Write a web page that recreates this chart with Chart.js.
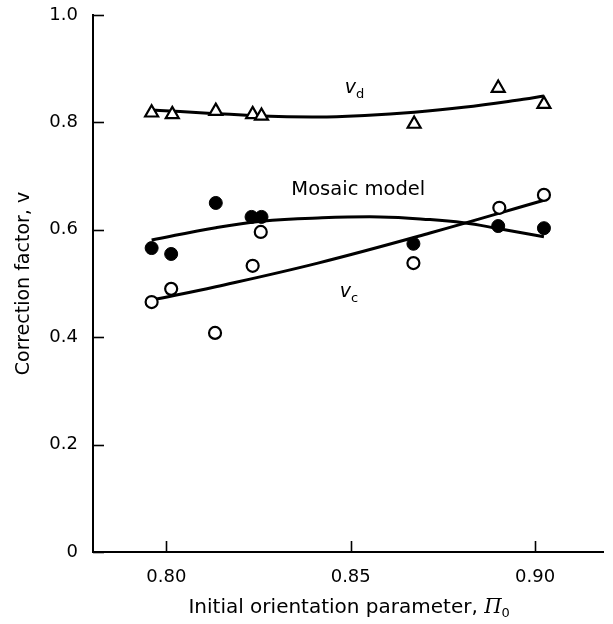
<!DOCTYPE html>
<html><head><meta charset="utf-8">
<script src="https://cdn.jsdelivr.net/npm/chart.js@4.4.0/dist/chart.umd.min.js"></script>
<style>html,body{margin:0;padding:0;background:#fff;}</style>
</head><body>
<canvas id="c" width="613" height="624" style="display:block;width:613px;height:624px"></canvas>
<script>
// ---- data ----
const xTickVals = [0.80, 0.85, 0.90];
const yTickVals = [0, 0.2, 0.4, 0.6, 0.8, 1.0];

// v_d (open triangles)
const triX = [0.796, 0.8016, 0.8134, 0.8234, 0.8258, 0.8672, 0.8900, 0.9024];
const triY = [0.818, 0.815, 0.821, 0.815, 0.812, 0.797, 0.864, 0.834];
// Mosaic model (filled circles)
const fillX = [0.796, 0.8013, 0.8134, 0.8231, 0.8258, 0.8670, 0.8900, 0.9024];
const fillY = [0.566, 0.555, 0.650, 0.624, 0.624, 0.574, 0.607, 0.603];
// v_c (open circles)
const openX = [0.796, 0.8013, 0.8132, 0.8234, 0.8256, 0.8670, 0.8903, 0.9024];
const openY = [0.4655, 0.490, 0.408, 0.533, 0.596, 0.538, 0.641, 0.665];

// fitted curves
const vdCurveX = [0.796, 0.8258, 0.8411, 0.8538, 0.8672, 0.8806, 0.8968, 0.9024];
const vdCurveY = [0.823, 0.812, 0.810, 0.813, 0.819, 0.828, 0.843, 0.849];
const moCurveX = [0.796, 0.8134, 0.8258, 0.8411, 0.8580, 0.8715, 0.8806, 0.8895, 0.9024];
const moCurveY = [0.581, 0.604, 0.616, 0.622, 0.624, 0.619, 0.613, 0.603, 0.587];
const vcCurveX = [0.796, 0.8134, 0.8411, 0.8715, 0.9024];
const vcCurveY = [0.469, 0.494, 0.538, 0.594, 0.655];

const pts = (xs, ys) => xs.map((v, i) => ({x: v, y: ys[i]}));

const FONT = 'DejaVu Sans';

const deco = {
  id: 'deco',
  afterDraw(chart) {
    const {ctx, scales: {x, y}, chartArea: a} = chart;
    ctx.save();
    // inward tick marks
    ctx.strokeStyle = '#000';
    ctx.lineWidth = 1.6;
    xTickVals.forEach(v => {
      const px = Math.round(x.getPixelForValue(v)) + 0.5;
      ctx.beginPath(); ctx.moveTo(px, a.bottom); ctx.lineTo(px, a.bottom - 11); ctx.stroke();
    });
    yTickVals.forEach(v => {
      const py = Math.round(y.getPixelForValue(v)) + 0.5;
      ctx.beginPath(); ctx.moveTo(a.left, py); ctx.lineTo(a.left + 11, py); ctx.stroke();
    });

    ctx.fillStyle = '#000';
    ctx.textBaseline = 'alphabetic';
    ctx.textAlign = 'left';

    // "Mosaic model"
    ctx.font = '19.5px ' + FONT;
    ctx.fillText('Mosaic model', x.getPixelForValue(0.8339), y.getPixelForValue(0.665));

    // v_d, v_c
    const sub = (main, s, xv, yv) => {
      const px = x.getPixelForValue(xv), py = y.getPixelForValue(yv);
      ctx.font = 'italic 19px ' + FONT;
      ctx.fillText(main, px, py);
      const w = ctx.measureText(main).width;
      ctx.font = '13px ' + FONT;
      ctx.fillText(s, px + w, py + 5);
    };
    sub('v', 'd', 0.8484, 0.855);
    sub('v', 'c', 0.8470, 0.475);

    // x-axis title with italic Pi and subscript 0
    const segs = [
      {t: 'Initial orientation parameter, ', f: '20px ' + FONT, dy: 0},
      {t: 'Π', f: 'italic 20px DejaVu Serif', dy: 0},
      {t: '0', f: '13px ' + FONT, dy: 4}
    ];
    let total = 0;
    segs.forEach(s => { ctx.font = s.f; s.w = ctx.measureText(s.t).width; total += s.w; });
    let sx = (a.left + a.right) / 2 - total / 2 + 1;
    const base = 613;
    segs.forEach(s => { ctx.font = s.f; ctx.fillText(s.t, sx, base + s.dy); sx += s.w; });
    ctx.restore();
  }
};

new Chart(document.getElementById('c'), {
  type: 'scatter',
  data: {
    datasets: [
      {data: pts(vdCurveX, vdCurveY), showLine: true, pointRadius: 0, borderColor: '#000', borderWidth: 3, tension: 0.4, order: 5},
      {data: pts(moCurveX, moCurveY), showLine: true, pointRadius: 0, borderColor: '#000', borderWidth: 3, tension: 0.4, order: 5},
      {data: pts(vcCurveX, vcCurveY), showLine: true, pointRadius: 0, borderColor: '#000', borderWidth: 3, tension: 0.4, order: 5},
      {data: pts(triX, triY), pointStyle: 'triangle', pointRadius: 7.5, backgroundColor: '#fff', borderColor: '#000', borderWidth: 2.2, order: 1},
      {data: pts(fillX, fillY), pointStyle: 'circle', pointRadius: 6.5, backgroundColor: '#000', borderColor: '#000', borderWidth: 1, order: 1},
      {data: pts(openX, openY), pointStyle: 'circle', pointRadius: 6, backgroundColor: '#fff', borderColor: '#000', borderWidth: 2.2, order: 1}
    ]
  },
  options: {
    responsive: false,
    animation: false,
    devicePixelRatio: 1,
    layout: {padding: {top: 15, right: 4, left: 0, bottom: 0}},
    plugins: {legend: {display: false}, tooltip: {enabled: false}},
    scales: {
      x: {
        type: 'linear', min: 0.7801, max: 0.9185,
        afterBuildTicks: s => { s.ticks = xTickVals.map(v => ({value: v})); },
        afterFit: s => { s.height = 72; s.paddingLeft = 0; s.paddingRight = 0; },
        grid: {display: false, drawTicks: false},
        border: {display: true, color: '#000', width: 2},
        ticks: {color: '#000', padding: 15, font: {family: FONT, size: 18}, callback: v => v.toFixed(2), maxRotation: 0}
      },
      y: {
        type: 'linear', min: 0, max: 1.0,
        afterBuildTicks: s => { s.ticks = yTickVals.map(v => ({value: v})); },
        afterFit: s => { s.width = 93; s.paddingTop = 0; s.paddingBottom = 0; },
        grid: {display: false, drawTicks: false},
        border: {display: true, color: '#000', width: 2},
        ticks: {color: '#000', padding: 15, font: {family: FONT, size: 18}, callback: v => v === 0 ? '0' : v.toFixed(1)},
        title: {display: true, text: 'Correction factor, v', color: '#000', font: {family: FONT, size: 19}, padding: {top: 13, bottom: 0}}
      }
    }
  },
  plugins: [deco]
});
</script>
</body></html>
